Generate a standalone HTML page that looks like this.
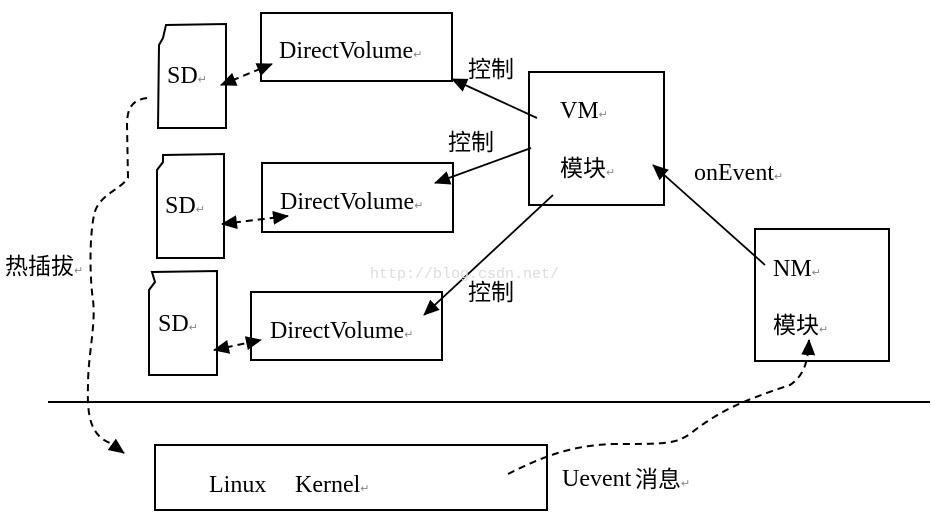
<!DOCTYPE html>
<html><head><meta charset="utf-8"><style>
html,body{margin:0;padding:0;background:#fff;}
svg{display:block;}
text{font-family:"Liberation Serif","Noto Serif CJK SC",serif;font-size:24px;fill:#000;}
.cj{font-family:"Liberation Sans","Noto Sans CJK SC",sans-serif;font-size:23px;}
.r{font-family:"Liberation Sans",sans-serif;font-size:11px;fill:#888;}
</style></head><body>
<svg width="934" height="525" viewBox="0 0 934 525" xmlns="http://www.w3.org/2000/svg">
<defs>
<marker id="as" markerWidth="16" markerHeight="16" refX="15" refY="8" orient="auto-start-reverse" markerUnits="userSpaceOnUse" viewBox="0 0 16 16"><path d="M0,1 L16,8 L0,15 z" fill="#000"/></marker>
</defs>
<g fill="none" stroke="#000" stroke-width="2">
<path d="M166,25 L226,24 L226,128 L158,128 L159,45 L163,38 Z"/>
<path d="M163,155 L224,154 L224,258 L157,258 L157,170 L163,162 Z"/>
<path d="M152,272 L217,271 L217,375 L149,375 L149,290 L155,282 Z"/>
<rect x="261" y="13" width="191" height="68"/>
<rect x="262" y="163" width="191" height="69"/>
<rect x="251" y="292" width="191" height="68"/>
<rect x="529" y="72" width="135" height="133"/>
<rect x="755" y="229" width="134" height="132"/>
<rect x="155" y="445" width="392" height="65"/>
<line x1="48" y1="402" x2="930" y2="402"/>
<g stroke-width="1.8">
<line x1="537" y1="118" x2="452" y2="79" marker-end="url(#as)"/>
<line x1="531" y1="148" x2="435" y2="183" marker-end="url(#as)"/>
<line x1="553" y1="195" x2="424" y2="315" marker-end="url(#as)"/>
<line x1="765" y1="265" x2="653" y2="165" marker-end="url(#as)"/>
</g>
<g stroke-dasharray="7,5">
<line x1="221" y1="85" x2="272" y2="64" marker-start="url(#as)" marker-end="url(#as)"/>
<line x1="222" y1="224" x2="288" y2="216" marker-start="url(#as)" marker-end="url(#as)"/>
<line x1="214" y1="350" x2="261" y2="340" marker-start="url(#as)" marker-end="url(#as)"/>
<path d="M147,98 C132,100 127,108 127,125 L128,178 C120,190 98,195 94,215 C89,240 90,280 93,300 C96,325 88,355 88,385 C87,415 90,435 110,443 L124,453" marker-end="url(#as)"/>
<path d="M508,474 C540,458 570,445 615,444 C665,444 675,444 690,434 C720,410 745,400 790,385 C805,375 808,360 809,340" marker-end="url(#as)"/>
</g>
</g>
<text x="279" y="58">DirectVolume<tspan class="r">↵</tspan></text>
<text x="280" y="209">DirectVolume<tspan class="r">↵</tspan></text>
<text x="270" y="338">DirectVolume<tspan class="r">↵</tspan></text>
<text x="167" y="83">SD<tspan class="r">↵</tspan></text>
<text x="165" y="213">SD<tspan class="r">↵</tspan></text>
<text x="158" y="331">SD<tspan class="r">↵</tspan></text>
<text class="cj" x="468" y="77">控制</text>
<text class="cj" x="448" y="150">控制</text>
<text class="cj" x="468" y="300">控制</text>
<text x="560" y="118">VM<tspan class="r">↵</tspan></text>
<text class="cj" x="560" y="176">模块<tspan class="r">↵</tspan></text>
<text x="694" y="180">onEvent<tspan class="r">↵</tspan></text>
<text x="773" y="276">NM<tspan class="r">↵</tspan></text>
<text class="cj" x="773" y="333">模块<tspan class="r">↵</tspan></text>
<text class="cj" x="5" y="274">热插拔<tspan class="r">↵</tspan></text>
<text x="209" y="492">Linux</text>
<text x="295" y="492">Kernel<tspan class="r">↵</tspan></text>
<text x="562" y="486">Uevent</text>
<text class="cj" x="635" y="487">消息<tspan class="r">↵</tspan></text>
<text x="370" y="278" style="font-family:'Liberation Mono',monospace;font-size:15px;fill:#ddd;">http://blog.csdn.net/</text>
</svg>
</body></html>
